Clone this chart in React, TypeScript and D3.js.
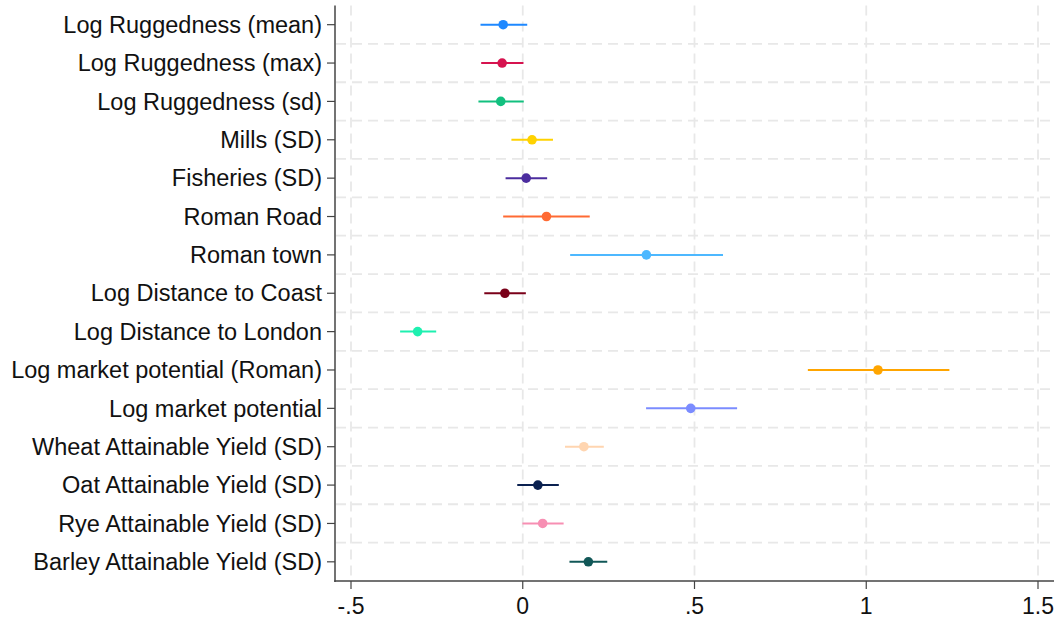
import * as d3 from 'd3'

const labels = [
  'Log Ruggedness (mean)',
  'Log Ruggedness (max)',
  'Log Ruggedness (sd)',
  'Mills (SD)',
  'Fisheries (SD)',
  'Roman Road',
  'Roman town',
  'Log Distance to Coast',
  'Log Distance to London',
  'Log market potential (Roman)',
  'Log market potential',
  'Wheat Attainable Yield (SD)',
  'Oat Attainable Yield (SD)',
  'Rye Attainable Yield (SD)',
  'Barley Attainable Yield (SD)',
]
const estimates = [-0.057, -0.06, -0.064, 0.027, 0.01, 0.069, 0.36, -0.052, -0.306, 1.034, 0.489, 0.178, 0.044, 0.058, 0.191]
const lower = [-0.123, -0.121, -0.129, -0.033, -0.05, -0.057, 0.138, -0.112, -0.357, 0.83, 0.359, 0.123, -0.016, -0.001, 0.136]
const upper = [0.013, 0.002, 0.003, 0.088, 0.071, 0.195, 0.583, 0.009, -0.252, 1.242, 0.624, 0.236, 0.105, 0.119, 0.246]
const colors = [
  '#1e88ff', '#d6134f', '#12c07f', '#ffd200', '#4b2c9e', '#ff6a33', '#4db8ff', '#7a0019',
  '#1ef0b0', '#ffa500', '#7b8cff', '#ffd5b0', '#0b2150', '#f78fb3', '#115757',
]
const xTicks = [-0.5, 0, 0.5, 1, 1.5]
const xTickLabels = ['-.5', '0', '.5', '1', '1.5']

const W = 1058
const H = 625
const left = 335
const right = 1054
const top = 5.5
const bottom = 581

export default function App() {
  const x = d3.scaleLinear().domain([-0.5, 1.5]).range([351, 1038])
  const y = d3.scalePoint<string>().domain(labels).range([top, bottom]).padding(0.5)
  const step = y.step()
  const font = '"Liberation Sans", Arial, sans-serif'
  const gridColor = '#e8e8e8'

  return (
    <div style={{ position: 'fixed', left: 0, top: 0 }}>
      <svg width={W} height={H} style={{ display: 'block', background: '#fff' }}>
        {/* horizontal grid between rows */}
        {labels.slice(1).map((l, i) => (
          <line
            key={'hg' + i}
            x1={left + 1}
            x2={right}
            y1={y(l)! - step / 2}
            y2={y(l)! - step / 2}
            stroke={gridColor}
            strokeWidth={1.8}
            strokeDasharray="10,6"
          />
        ))}
        {/* vertical grid */}
        {xTicks.map((t, i) => (
          <line
            key={'vg' + i}
            x1={x(t)}
            x2={x(t)}
            y1={top}
            y2={bottom}
            stroke={gridColor}
            strokeWidth={1.8}
            strokeDasharray="10,6"
          />
        ))}
        {/* CIs and points */}
        {labels.map((l, i) => (
          <g key={'m' + i}>
            <line
              x1={x(lower[i])}
              x2={x(upper[i])}
              y1={y(l)}
              y2={y(l)}
              stroke={colors[i]}
              strokeWidth={2}
            />
            <circle cx={x(estimates[i])} cy={y(l)} r={4.8} fill={colors[i]} />
          </g>
        ))}
        {/* y axis */}
        <line x1={left} x2={left} y1={top} y2={bottom + 1} stroke="#444" strokeWidth={1.5} />
        {labels.map((l, i) => (
          <g key={'yt' + i}>
            <line x1={left - 8} x2={left} y1={y(l)} y2={y(l)} stroke="#444" strokeWidth={1.2} />
            <text
              x={left - 13}
              y={y(l)}
              dy="0.35em"
              textAnchor="end"
              fontFamily={font}
              fontSize={23.5}
              fill="#111"
            >
              {l}
            </text>
          </g>
        ))}
        {/* x axis */}
        <line x1={left - 0.75} x2={right} y1={bottom} y2={bottom} stroke="#444" strokeWidth={1.5} />
        {xTicks.map((t, i) => (
          <g key={'xt' + i}>
            <line x1={x(t)} x2={x(t)} y1={bottom} y2={bottom + 8} stroke="#444" strokeWidth={1.2} />
            <text
              x={x(t)}
              y={bottom + 25}
              dy="0.35em"
              textAnchor="middle"
              fontFamily={font}
              fontSize={23}
              fill="#111"
            >
              {xTickLabels[i]}
            </text>
          </g>
        ))}
      </svg>
    </div>
  )
}
